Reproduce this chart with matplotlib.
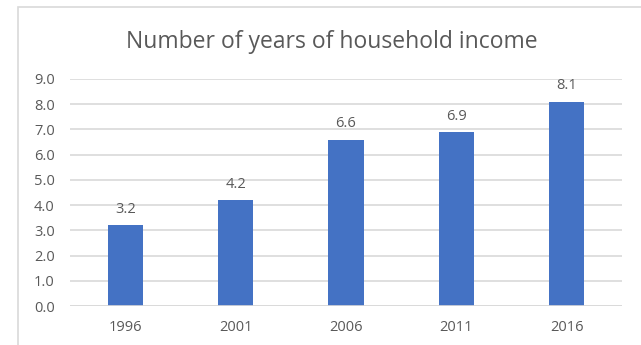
import matplotlib.pyplot as plt
from matplotlib.patches import Rectangle

# dane
lata = ["1996", "2001", "2006", "2011", "2016"]
wartosci = [3.2, 4.2, 6.6, 6.9, 8.1]
etykiety_y = ["0.0", "1.0", "2.0", "3.0", "4.0", "5.0", "6.0", "7.0", "8.0", "9.0"]

plt.rcParams['font.family'] = ['Open Sans', 'DejaVu Sans']
szary = '#595959'

fig = plt.figure(figsize=(6.41, 3.45), dpi=100)
ax = fig.add_axes([70 / 641, 1 - 306 / 345, (622 - 70) / 641, (306 - 79) / 345])

# ramka wykresu (ucięta z prawej i od dołu)
fig.patches.append(Rectangle((18 / 641, -0.1), 1.2, 1 - 7 / 345 + 0.1,
                             transform=fig.transFigure, fill=False,
                             edgecolor='#D9D9D9', linewidth=1.2))

x = range(len(lata))
ax.bar(x, wartosci, width=0.32, color='#4472C4', zorder=3)
for xi, v in zip(x, wartosci):
    ax.annotate(f"{v:.1f}", (xi, v), xytext=(0, 6), textcoords='offset points',
                ha='center', va='bottom', fontsize=10.5, color=szary)

ax.set_xlim(-0.5, len(lata) - 0.5)
ax.set_ylim(0, 9)
ax.set_yticks(range(10))
ax.set_yticklabels(etykiety_y)
ax.set_xticks(list(x))
ax.set_xticklabels(lata)
ax.tick_params(axis='both', length=0, labelsize=10.5, labelcolor=szary)
ax.tick_params(axis='x', pad=10)
ax.tick_params(axis='y', pad=11)
ax.grid(axis='y', color='#D9D9D9', linewidth=1.2, zorder=0)
for s in ax.spines.values():
    s.set_visible(False)
ax.axhline(0, color='#D9D9D9', linewidth=1.2, zorder=4)

fig.text(332 / 641, 1 - 42 / 345, "Number of years of household income",
         ha='center', va='center', fontsize=16.5, color=szary)

plt.savefig("out.png", dpi=100)
